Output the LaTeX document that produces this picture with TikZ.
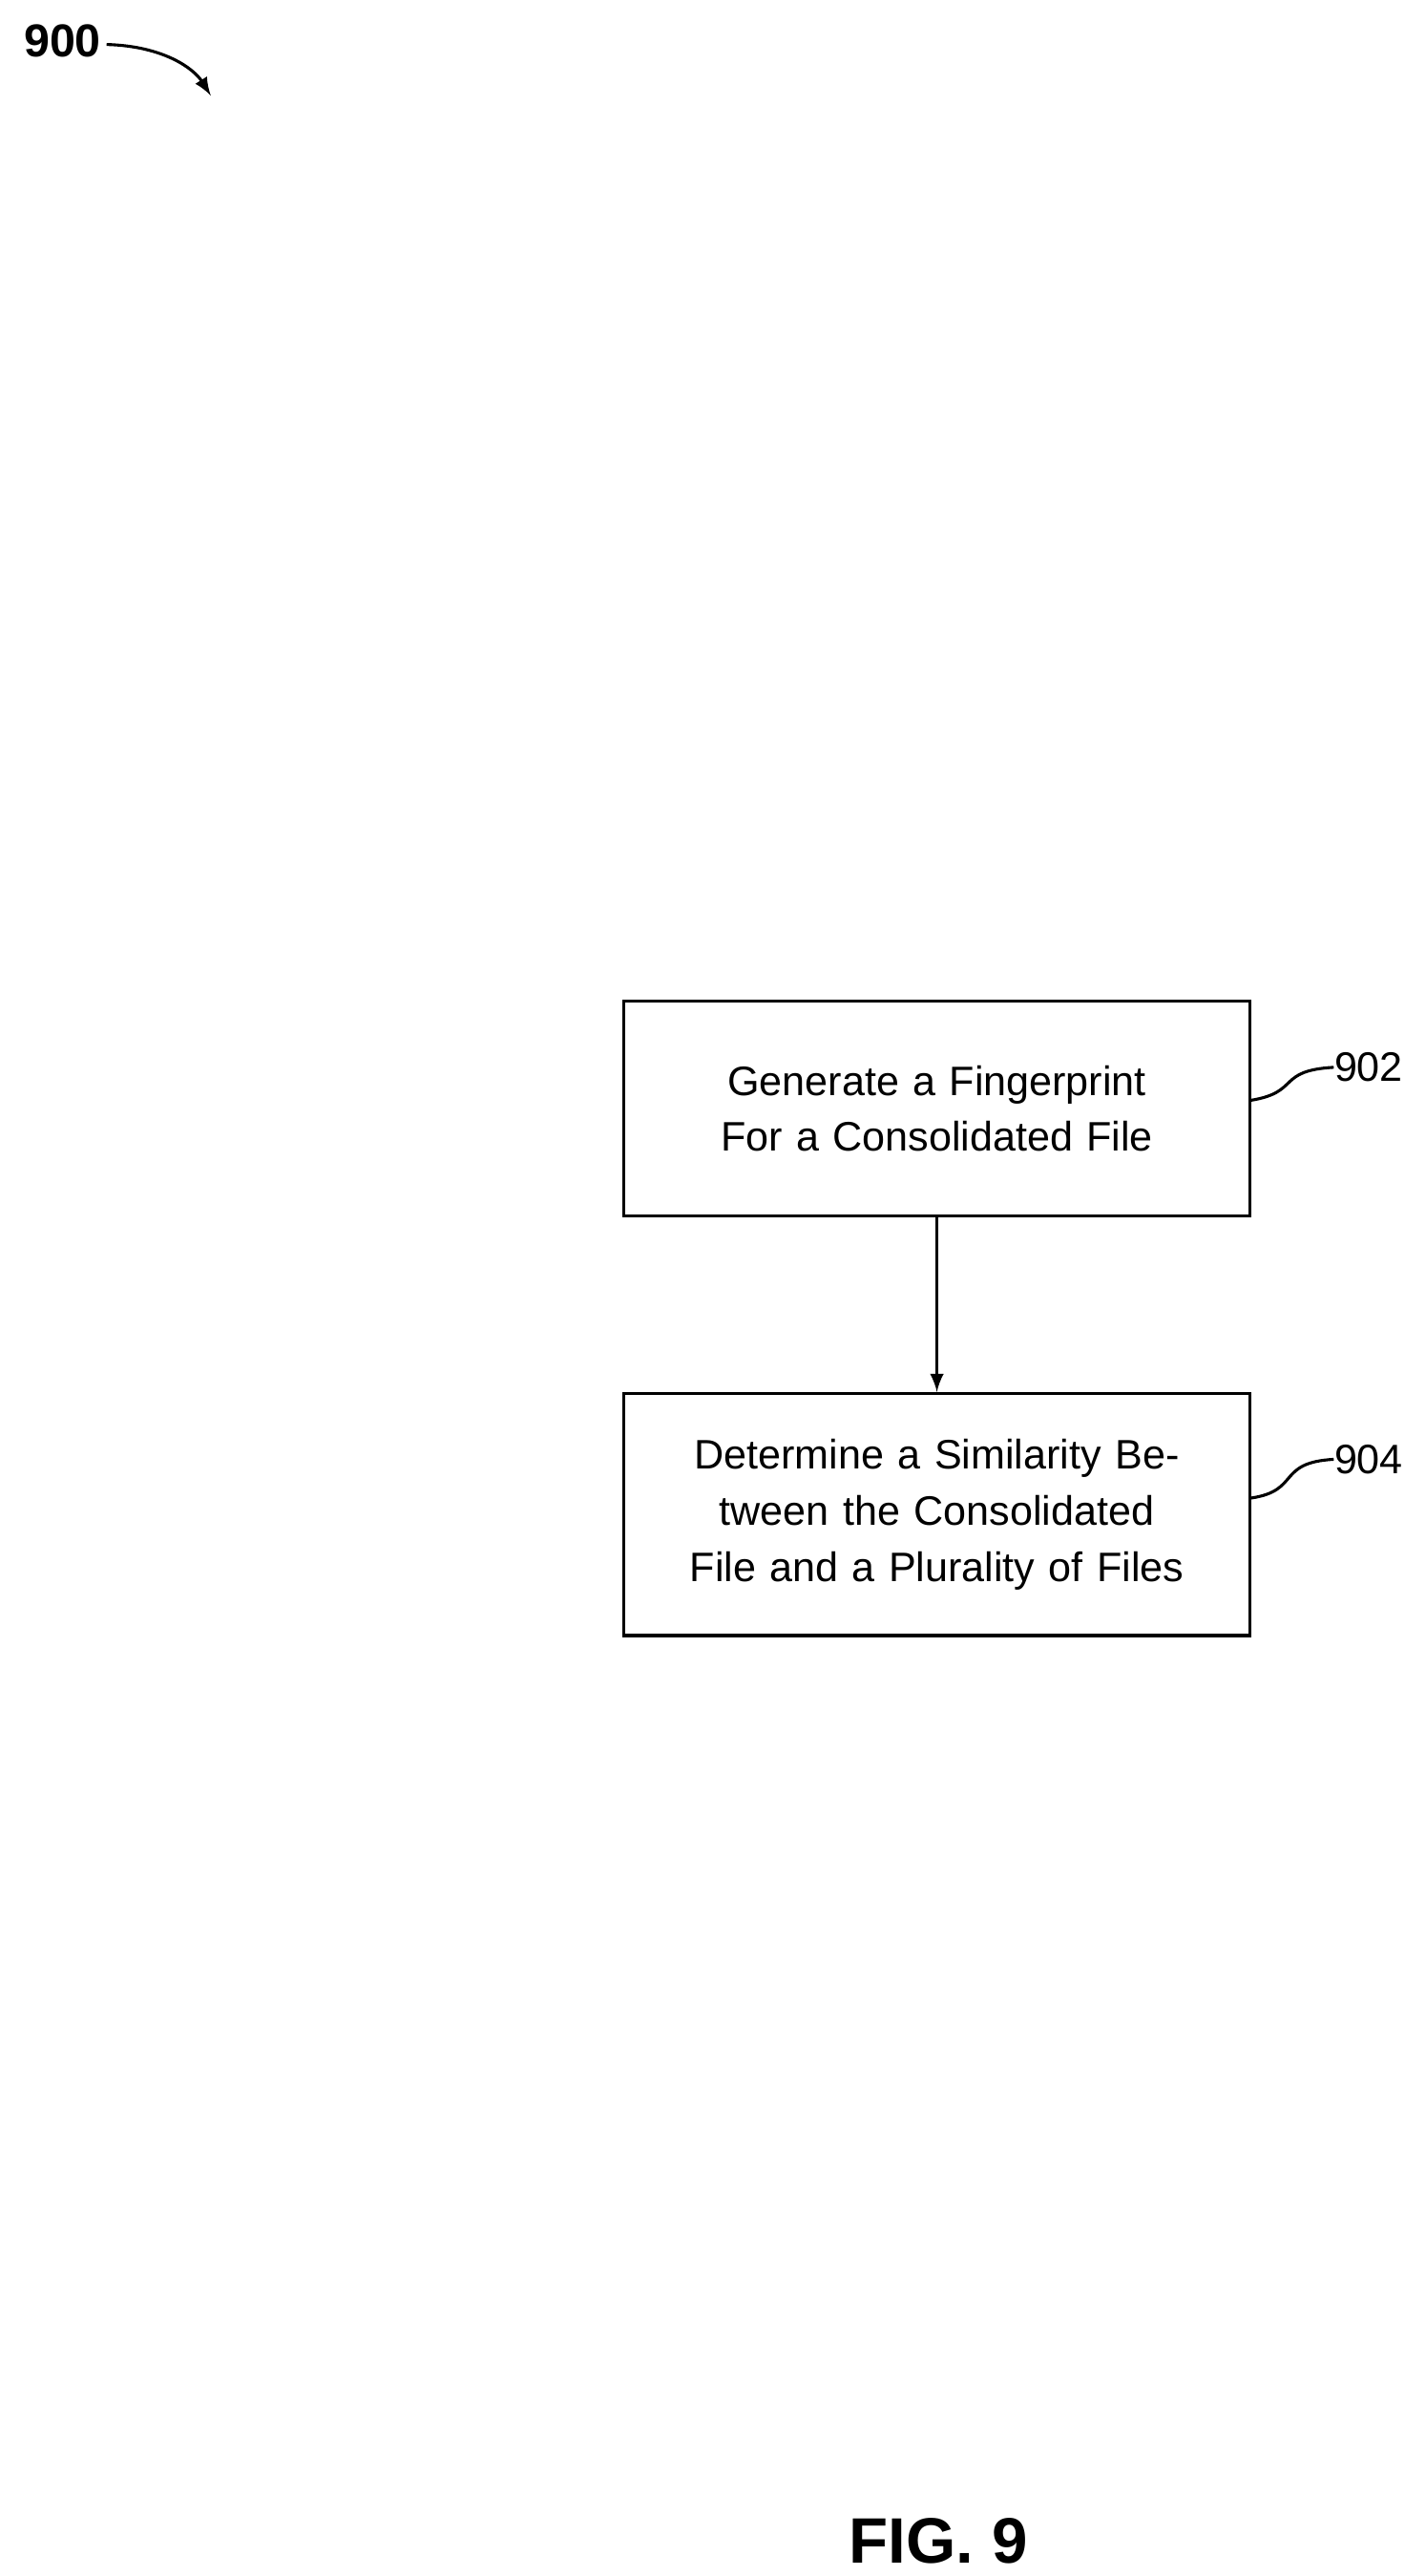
\documentclass[tikz,border=0pt]{standalone}
\usepackage{fontspec}
\setmainfont{Liberation Sans}
\usetikzlibrary{positioning}
\begin{document}
\begin{tikzpicture}[x=0.5pt,y=-0.5pt,
  stepbox/.style={draw,line width=0.9pt,minimum width=190pt,text width=180pt,align=center,font=\fontsize{12.5}{17}\selectfont},
  reflabel/.style={font=\fontsize{12.5}{15}\selectfont,anchor=west,inner sep=0pt}]
\useasboundingbox (0,0) rectangle (866,1564);
\node[stepbox,minimum height=65pt] (902) at (569,673) {Generate a Fingerprint For a Consolidated File};
\node[stepbox,minimum height=73.5pt] (904) at (569,919.5) {Determine a Similarity Between the Consolidated File and a Plurality of Files};
\draw[-latex,line width=0.9pt] (902) -- (904);
\node[reflabel] (l902) at (810,648) {902};
\node[reflabel] (l904) at (810,886) {904};
\draw[line width=0.9pt] (902.east) ++(0,-5) .. controls (790,663) and (775,650) .. (l902.west);
\draw[line width=0.9pt] (904.east) ++(0,-10) .. controls (790,905) and (775,888) .. (l904.west);
\node[font=\fontsize{14}{16}\selectfont\bfseries,inner sep=0pt] (l900) at (38,25) {900};
\coordinate (tip900) at (128,58);
\draw[-latex,line width=0.9pt] (l900.east) ++(3,2) .. controls (100,28) and (118,42) .. (tip900);
\node[font=\fontsize{19.5}{22}\selectfont\bfseries] (fig) at (570,1543) {FIG. 9};
\end{tikzpicture}
\end{document}
